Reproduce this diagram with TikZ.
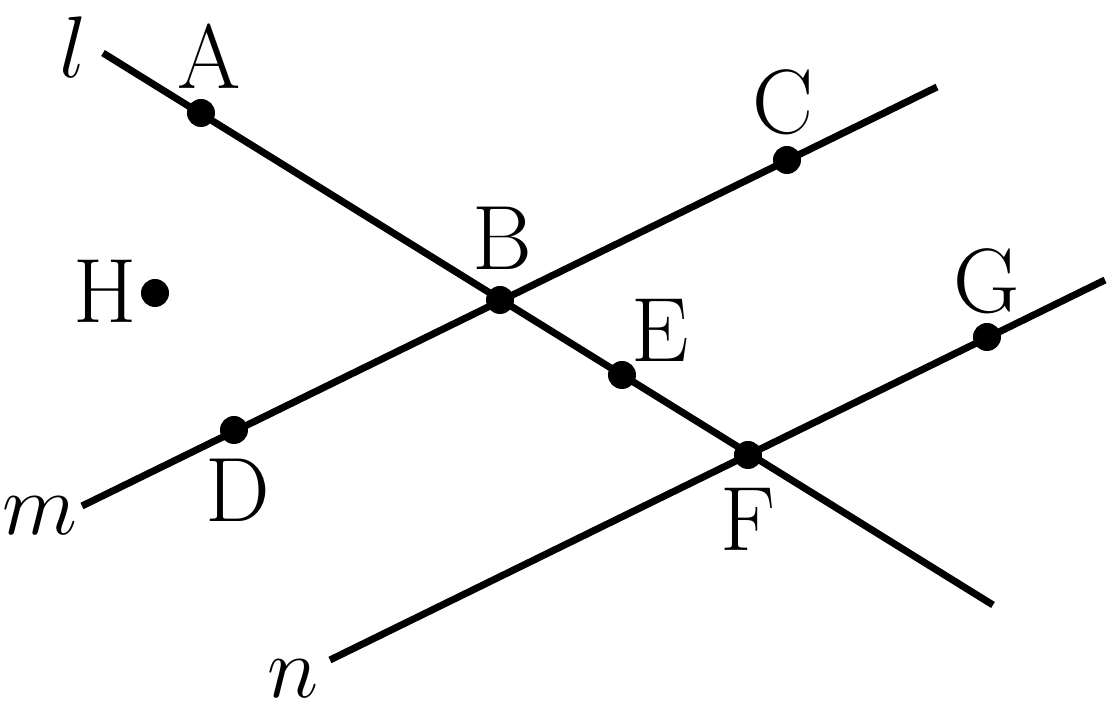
\documentclass[tikz,border=0pt]{standalone}
\begin{document}
\begin{tikzpicture}[line width=2pt,
		ptlabel/.style={anchor=base,inner sep=0pt,font=\fontsize{26}{30}\selectfont}]
		\useasboundingbox (0,0) rectangle (11.07,7.27);
		\coordinate (l1) at (1.03,6.74);
		\coordinate (l2) at (9.93,1.22);
		\coordinate (m1) at (0.82,2.21);
		\coordinate (m2) at (9.37,6.40);
		\coordinate (n1) at (3.30,0.67);
		\coordinate (n2) at (11.05,4.47);
		\coordinate (A) at (2.01,6.14);
		\coordinate (B) at (5.00,4.27);
		\coordinate (C) at (7.87,5.67);
		\coordinate (D) at (2.34,2.97);
		\coordinate (E) at (6.22,3.52);
		\coordinate (F) at (7.48,2.72);
		\coordinate (G) at (9.87,3.90);
		\coordinate (H) at (1.55,4.34);
		\draw (l1) -- (l2);
		\draw (m1) -- (m2);
		\draw (n1) -- (n2);
		\foreach \p in {A,B,C,D,E,F,G,H}
			\fill (\p) circle[radius=0.14];
		\node[ptlabel] (labl) at (0.73,6.49) {$l$};
		\node[ptlabel] (labm) at (0.40,1.92) {$m$};
		\node[ptlabel] (labn) at (2.93,0.29) {$n$};
		\node[ptlabel] (labA) at (2.09,6.38) {A};
		\node[ptlabel] (labB) at (5.02,4.57) {B};
		\node[ptlabel] (labC) at (7.83,5.93) {C};
		\node[ptlabel] (labD) at (2.38,2.05) {D};
		\node[ptlabel] (labE) at (6.60,3.65) {E};
		\node[ptlabel] (labF) at (7.48,1.76) {F};
		\node[ptlabel] (labG) at (9.87,4.14) {G};
		\node[ptlabel] (labH) at (1.05,4.04) {H};
	\end{tikzpicture}
\end{document}
